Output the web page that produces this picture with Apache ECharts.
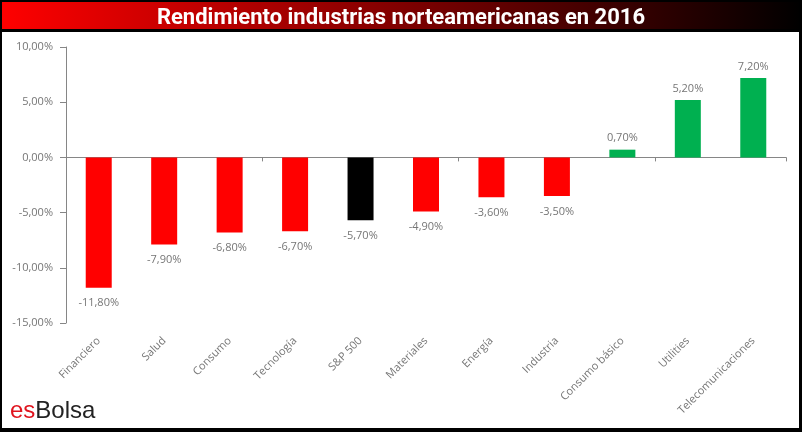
<!DOCTYPE html>
<html><head><meta charset="utf-8">
<script src="https://cdn.jsdelivr.net/npm/echarts@6/dist/echarts.min.js"></script>
<style>html,body{margin:0;padding:0;background:#fff}#c{width:802px;height:432px}</style>
</head><body><div id="c"></div>
<script>
const categories = ['Financiero','Salud','Consumo','Tecnología','S&P 500','Materiales','Energía','Industria','Consumo básico','Utilities','Telecomunicaciones'];
const values = [-11.8,-7.9,-6.8,-6.7,-5.7,-4.9,-3.6,-3.5,0.7,5.2,7.2];
const yTicks = [-15,-10,-5,0,5,10];
const titleText = 'Rendimiento industrias norteamericanas en 2016';

const fmt = v => v.toFixed(2).replace('.', ',') + '%';
const colorFor = (c, v) => c === 'S&P 500' ? '#000000' : (v < 0 ? '#ff0000' : '#00b050');
const labelColor = '#767676';

const chart = echarts.init(document.getElementById('c'), null, {renderer:'canvas'});
chart.setOption({
  animation:false,
  backgroundColor:'#fff',
  title:{text:titleText,left:'center',top:2,textStyle:{color:'#fff',fontFamily:'Roboto',fontWeight:'bold',fontSize:22}},
  graphic:[
    {type:'rect',z:-1,shape:{x:0,y:0,width:802,height:30},style:{fill:new echarts.graphic.LinearGradient(0,0,1,0,[{offset:0,color:'#ff0000'},{offset:1,color:'#000000'}])}},
    {type:'rect',z:10,shape:{x:0,y:29,width:802,height:3},style:{fill:'#000'}},
    {type:'rect',z:10,shape:{x:0,y:0,width:802,height:2},style:{fill:'#000'}},
    {type:'rect',z:10,shape:{x:0,y:0,width:2,height:432},style:{fill:'#000'}},
    {type:'rect',z:10,shape:{x:799,y:0,width:3,height:432},style:{fill:'#000'}},
    {type:'rect',z:10,shape:{x:0,y:428,width:802,height:4},style:{fill:'#000'}},
    {type:'text',left:10,top:399,style:{rich:{a:{fill:'#e0141e',fontSize:24,fontFamily:'Liberation Sans'},b:{fill:'#222',fontSize:24,fontFamily:'Liberation Sans'}},text:'{a|es}{b|Bolsa}'}}
  ],
  grid:{left:66,right:16,top:47,bottom:109},
  xAxis:[
    {type:'category',data:categories,position:'bottom',axisLine:{show:false,onZero:false},axisTick:{show:false},
     axisLabel:{rotate:45,interval:0,color:labelColor,fontFamily:'Open Sans',fontSize:11,margin:16}},
    {type:'category',data:categories,position:'bottom',axisLine:{onZero:true,lineStyle:{color:'#868686'}},axisTick:{show:true,length:4,lineStyle:{color:'#868686'}},axisLabel:{show:false}}
  ],
  yAxis:{type:'value',min:yTicks[0],max:yTicks[yTicks.length-1],interval:5,axisLine:{show:true,lineStyle:{color:'#868686'}},axisTick:{show:true,length:6,lineStyle:{color:'#868686'}},splitLine:{show:false},
    axisLabel:{color:labelColor,fontFamily:'Open Sans',fontSize:11,margin:13,formatter:v=>fmt(v)}},
  series:[{type:'bar',xAxisIndex:1,barWidth:26,
    data:values.map((v,i)=>({value:v,itemStyle:{color:colorFor(categories[i],v)},label:{position:v<0?'bottom':'top',distance:v<0?10:6}})),
    label:{show:true,color:labelColor,fontFamily:'Open Sans',fontSize:11,formatter:p=>fmt(p.value)}}]
});
</script></body></html>
